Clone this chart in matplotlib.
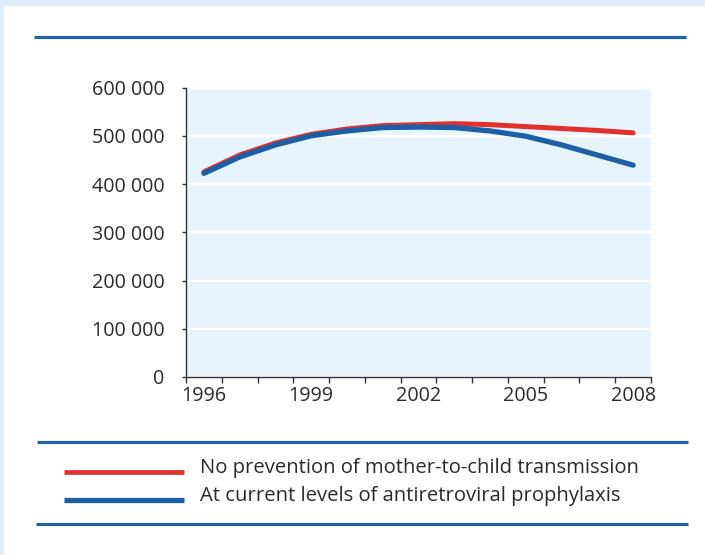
import matplotlib
matplotlib.use("Agg")
import matplotlib.pyplot as plt
from matplotlib.lines import Line2D
from matplotlib.patches import Rectangle
import numpy as np

years = [1996, 1997, 1998, 1999, 2000, 2001, 2002, 2003, 2004, 2005, 2006, 2007, 2008]
no_prevention = [425000, 460000, 485000, 503000, 514000, 521000, 523000, 525000, 523000, 519000, 515000, 511000, 506000]
current_levels = [422000, 456000, 481000, 500000, 510000, 517000, 518000, 517000, 510000, 499000, 481000, 460000, 439000]
series_labels = ["No prevention of mother-to-child transmission",
                 "At current levels of antiretroviral prophylaxis"]
year_labels = ["1996", "1999", "2002", "2005", "2008"]
y_ticks = [0, 100000, 200000, 300000, 400000, 500000, 600000]

RED = "#e2312d"
BLUE = "#1c5fa6"
RULE = "#2262ab"
SHADE = "#e8f4fc"
BORDER = "#ddeefa"
TXT = "#2b2b2b"

plt.rcParams['font.family'] = ['Open Sans', 'DejaVu Sans']

W, H = 705, 555
fig = plt.figure(figsize=(W / 100, H / 100), dpi=100)
fig.patch.set_facecolor(BORDER)

def fx(px):
    return px / W

def fy(py):
    return 1 - py / H

# white panel
fig.add_artist(Rectangle((fx(4), 0), 1 - fx(4), fy(6), transform=fig.transFigure,
                         facecolor="white", edgecolor="none", zorder=0))

# rules
for y0, x0, x1 in [(37, 34, 686), (442, 37, 688), (524, 36, 688)]:
    fig.add_artist(Line2D([fx(x0), fx(x1)], [fy(y0), fy(y0)], transform=fig.transFigure,
                          color=RULE, lw=2.3, solid_capstyle="butt"))

ax_l, ax_r, ax_t, ax_b = 186, 651, 87.5, 377
ax = fig.add_axes([fx(ax_l), fy(ax_b), fx(ax_r - ax_l), (ax_b - ax_t) / H])
ax.set_facecolor(SHADE)

x = np.arange(len(years))
ax.plot(x, no_prevention, color=RED, lw=3.6, solid_capstyle="round", zorder=3)
ax.plot(x, current_levels, color=BLUE, lw=3.8, solid_capstyle="round", zorder=4)

ax.set_xlim(-0.5, len(years) - 0.5)
ax.set_ylim(0, 600000)

ax.set_yticks(y_ticks)
ax.set_yticklabels([f"{v:,}".replace(",", " ") for v in y_ticks])
ax.yaxis.grid(True, color="white", lw=1.6)
ax.set_axisbelow(True)

label_pos = [years.index(int(s)) for s in year_labels]
ax.set_xticks(label_pos)
ax.set_xticklabels(year_labels)
ax.set_xticks(np.arange(-0.5, len(years)), minor=True)
ax.tick_params(axis="x", which="major", length=0, pad=6.5, labelsize=14.2, labelcolor=TXT)
ax.tick_params(axis="x", which="minor", length=4.5, width=1, color="#333333", direction="out")
ax.tick_params(axis="y", length=2.8, width=1, color="#333333", pad=12.5, labelsize=14.2, labelcolor=TXT)

for s in ["top", "right"]:
    ax.spines[s].set_visible(False)
for s in ["left", "bottom"]:
    ax.spines[s].set_color("#333333")
    ax.spines[s].set_linewidth(1)

# legend
for i, (lab, col) in enumerate(zip(series_labels, [RED, BLUE])):
    yl = 471.5 + i * 28.5
    fig.add_artist(Line2D([fx(64), fx(184)], [fy(yl), fy(yl)], transform=fig.transFigure,
                          color=col, lw=3.4 if i == 0 else 3.8, solid_capstyle="butt"))
    fig.text(fx(200), fy(yl - 3.5), lab, fontsize=14.6, color=TXT, va="center", ha="left")

fig.savefig("out.png", dpi=100, facecolor=fig.get_facecolor())
